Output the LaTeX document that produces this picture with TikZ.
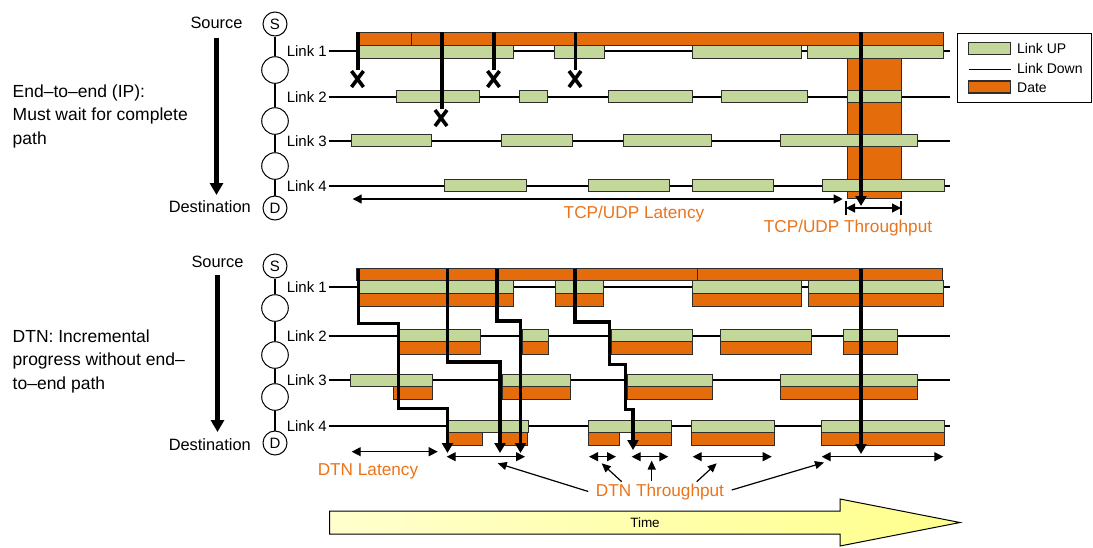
\documentclass[tikz,border=0pt]{standalone}
\usepackage{fontspec}
\setmainfont{Liberation Sans}
\usetikzlibrary{arrows.meta}
\definecolor{linkup}{RGB}{196,215,155}
\definecolor{datec}{RGB}{228,108,10}
\definecolor{orangetxt}{RGB}{235,115,25}
\definecolor{barline}{RGB}{45,45,45}
\definecolor{timefillA}{RGB}{255,255,205}
\definecolor{timefillB}{RGB}{255,255,140}
\begin{document}
\begin{tikzpicture}[x=1pt,y=-1pt,
  gbar/.style={fill=linkup,draw=barline,line width=0.9pt},
  obar/.style={fill=datec,draw=barline,line width=0.9pt},
  linkline/.style={line width=1.8pt},
  linklbl/.style={inner sep=0pt,font=\fontsize{15}{18}\selectfont},
  sdlbl/.style={inner sep=0pt,font=\fontsize{16.4}{19}\selectfont},
  lefttxt/.style={inner sep=0pt,font=\fontsize{17.5}{21}\selectfont},
  orlbl/.style={inner sep=0pt,text=orangetxt,font=\fontsize{17.2}{20}\selectfont},
  legtxt/.style={inner sep=0pt,font=\fontsize{14}{16}\selectfont},
  nodec/.style={circle,draw,line width=1pt,fill=white,minimum size=26.6pt,inner sep=0pt},
  endc/.style={circle,draw,line width=1pt,fill=white,minimum size=24pt,inner sep=0pt,font=\fontsize{15}{18}\selectfont},
  patharrow/.style={line width=3.5pt,-{Triangle[length=10pt,width=11pt]}},
  plain thick/.style={line width=3.5pt},
  xmark/.style={line width=3.6pt},
  dimarrow/.style={line width=1.2pt,{Triangle[length=9pt,width=9pt]}-{Triangle[length=9pt,width=9pt]}},
  pointer/.style={line width=1.2pt,-{Triangle[length=9pt,width=8pt]}},
  bigdown/.style={line width=4.2pt,-{Triangle[length=12pt,width=13pt]}}
]
\path[use as bounding box] (0,0) rectangle (1093,547);

% ================= TOP SECTION =================
% left description
\node[lefttxt,anchor=base west] (t1) at (12.5,97) {End–to–end (IP):};
\node[lefttxt,anchor=base west] (t2) at (12.5,120.5) {Must wait for complete};
\node[lefttxt,anchor=base west] (t3) at (12.5,144) {path};
% source / destination
\node[sdlbl,anchor=base] (srcA) at (216.5,28) {Source};
\node[sdlbl,anchor=base east] (dstA) at (251,212.5) {Destination};
\coordinate (arrA1) at (216.5,37.5);
\coordinate (arrA2) at (216.5,195);
\draw[bigdown] (arrA1) -- (arrA2);
% node chain
\node[endc] (SA) at (275,24) {S};
\node[nodec] (nA1) at (275,70) {};
\node[nodec] (nA2) at (275,121) {};
\node[nodec] (nA3) at (275,166) {};
\node[endc] (DA) at (275,208) {D};
\draw[line width=1.2pt] (SA) -- (nA1) (nA1) -- (nA2) (nA2) -- (nA3) (nA3) -- (DA);
% link lines
\foreach \y/\n in {50.7/1,96.7/2,140.7/3,185.7/4}{
  \node[linklbl,anchor=east] (lA\n) at (327,\y) {Link \n};
  \coordinate (rA\n) at (950,\y);
  \draw[linkline] (lA\n.east) ++(1.5,0) -- (rA\n);
}
% orange block
\draw[obar] (847,58) rectangle (901,198);
% green bars
\foreach \a/\b in {359/513,554/604,692/801,807/943}
  \draw[gbar] (\a,45.5) rectangle (\b,58);
\foreach \a/\b in {396/479,519/547,608/692,721/807,847/901}
  \draw[gbar] (\a,90.5) rectangle (\b,102.7);
\foreach \a/\b in {351/431,501/572,623/711,780/917}
  \draw[gbar] (\a,134.5) rectangle (\b,146.7);
\foreach \a/\b in {444/526,588/669,692/773,822/944}
  \draw[gbar] (\a,179.5) rectangle (\b,191.7);
% orange top bar
\draw[obar] (356,32) rectangle (411,45.5);
\draw[obar] (411,32) rectangle (943,45.5);
% blocked attempts
\foreach \lx/\ly/\cx/\cy in {358/70/357.5/79, 442/109/441/118, 494/70/493.5/79, 575.5/70/575/79}{
  \draw[plain thick] (\lx,32) -- (\lx,\ly);
  \draw[xmark] (\cx-6,\cy-8) -- (\cx+6,\cy+8) (\cx-6,\cy+8) -- (\cx+6,\cy-8);
}
\draw[patharrow] (861,32) -- (861,206);
% dimensions
\coordinate (latA1) at (352.7,199);
\coordinate (latA2) at (842.7,199);
\draw[dimarrow] (latA1) -- (latA2);
\node[orlbl] (latAt) at (634,214) {TCP/UDP Latency};
\coordinate (thrA1) at (846,208);
\coordinate (thrA2) at (901,208);
\draw[dimarrow] (thrA1) -- (thrA2);
\draw[line width=1.2pt] (846,201) -- (846,215) (901,201) -- (901,215);
\node[orlbl] (thrAt) at (848,228.5) {TCP/UDP Throughput};

% legend
\draw[line width=1pt] (957.5,33.5) rectangle (1091.5,102);
\draw[gbar,line width=1.2pt] (968.5,42.5) rectangle (1010.5,54.5);
\node[legtxt,anchor=west] (lg1) at (1017,48.5) {Link UP};
\draw[line width=1.5pt] (968.5,69.3) -- (1010.5,69.3);
\node[legtxt,anchor=west] (lg2) at (1017,68.5) {Link Down};
\draw[obar,line width=1.2pt] (968.5,81) rectangle (1010.5,93);
\node[legtxt,anchor=west] (lg3) at (1017,87.5) {Date};

% ================= BOTTOM SECTION =================
\node[lefttxt,anchor=base west] (b1) at (12.5,342) {DTN: Incremental};
\node[lefttxt,anchor=base west] (b2) at (12.5,365.5) {progress without end–};
\node[lefttxt,anchor=base west] (b3) at (12.5,389) {to–end path};
\node[sdlbl,anchor=base] (srcB) at (217.5,267) {Source};
\node[sdlbl,anchor=base east] (dstB) at (251,450) {Destination};
\coordinate (arrB1) at (217.5,275);
\coordinate (arrB2) at (217.5,432);
\draw[bigdown] (arrB1) -- (arrB2);
\node[endc] (SB) at (275,266) {S};
\node[nodec] (nB1) at (275,308) {};
\node[nodec] (nB2) at (275,355) {};
\node[nodec] (nB3) at (275,397) {};
\node[endc] (DB) at (275,443) {D};
\draw[line width=1.2pt] (SB) -- (nB1) (nB1) -- (nB2) (nB2) -- (nB3) (nB3) -- (DB);
\foreach \y/\n in {286.7/1,336/2,380/3,425.7/4}{
  \node[linklbl,anchor=east] (lB\n) at (327,\y) {Link \n};
  \coordinate (rB\n) at (950,\y);
  \draw[linkline] (lB\n.east) ++(1.5,0) -- (rB\n);
}
% link 1
\foreach \a/\b in {359/513,555/603,692/801,808/943}{
  \draw[gbar] (\a,280.7) rectangle (\b,293.3);
  \draw[obar] (\a,293.3) rectangle (\b,306);
}
% link 2
\foreach \a/\b in {399/480,522/548,611/692,720/811,843/897}{
  \draw[gbar] (\a,329.5) rectangle (\b,341.8);
  \draw[obar] (\a,341.8) rectangle (\b,354);
}
% link 3
\foreach \a/\b in {350/432,502/570,627/712,780/917}
  \draw[gbar] (\a,374) rectangle (\b,386.7);
\foreach \a/\b in {393/432,502/570,627/712,780/917}
  \draw[obar] (\a,386.7) rectangle (\b,399);
% link 4
\foreach \a/\b in {448/528,588/671,691/774,821/944}
  \draw[gbar] (\a,420) rectangle (\b,432.7);
\foreach \a/\b in {448/482,500/527,588/619,632/671,691/774,821/944}
  \draw[obar] (\a,432.7) rectangle (\b,445);
% top orange bar
\draw[obar] (356,268.3) rectangle (697,280.7);
\draw[obar] (697,268.3) rectangle (942.5,280.7);
% bundle paths
\draw[patharrow] (358.5,268.5) -- (358.5,323.5) -- (398.5,323.5) -- (398.5,408.5) -- (447.5,408.5) -- (447.5,453);
\draw[patharrow] (447.5,268.5) -- (447.5,362) -- (500,362) -- (500,453);
\draw[patharrow] (497,268.5) -- (497,321) -- (520.5,321) -- (520.5,453);
\draw[patharrow] (575,268.5) -- (575,322) -- (609.5,322) -- (609.5,364.5) -- (625.5,364.5) -- (625.5,409.5) -- (633,409.5) -- (633,450);
\draw[patharrow] (861,268.5) -- (861,454);
% dimensions
\coordinate (latB1) at (351.7,451.7);
\coordinate (latB2) at (437.7,451.7);
\draw[dimarrow] (latB1) -- (latB2);
\node[orlbl] (latBt) at (368,471) {DTN Latency};
\foreach \a/\b/\n in {446.7/525/1,589/616/2,631.7/668.3/3,692.7/771.7/4,821.7/943.3/5}{
  \coordinate (th\n a) at (\a,456.7);
  \coordinate (th\n b) at (\b,456.7);
  \draw[dimarrow] (th\n a) -- (th\n b);
}
\node[orlbl] (thrBt) at (660,492) {DTN Throughput};
\coordinate (p1s) at (588.3,491.5);  \coordinate (p1e) at (497.7,463.3);
\coordinate (p2s) at (621.7,481.7);  \coordinate (p2e) at (601.7,463.3);
\coordinate (p3s) at (651.7,480.5);  \coordinate (p3e) at (651.7,460.5);
\coordinate (p4s) at (696.7,481.7);  \coordinate (p4e) at (716.7,463.3);
\coordinate (p5s) at (731.7,490);    \coordinate (p5e) at (824,462.5);
\foreach \n in {1,...,5}
  \draw[pointer] (p\n s) -- (p\n e);

% time arrow
\shade[left color=timefillA,right color=timefillB,draw=black,line width=1pt]
  (329.5,511) -- (840,511) -- (840,499) -- (960,522.5) -- (840,546) -- (840,534) -- (329.5,534) -- cycle;
\node[inner sep=0pt,font=\fontsize{13.5}{16}\selectfont] (timet) at (645,523) {Time};
\end{tikzpicture}
\end{document}
